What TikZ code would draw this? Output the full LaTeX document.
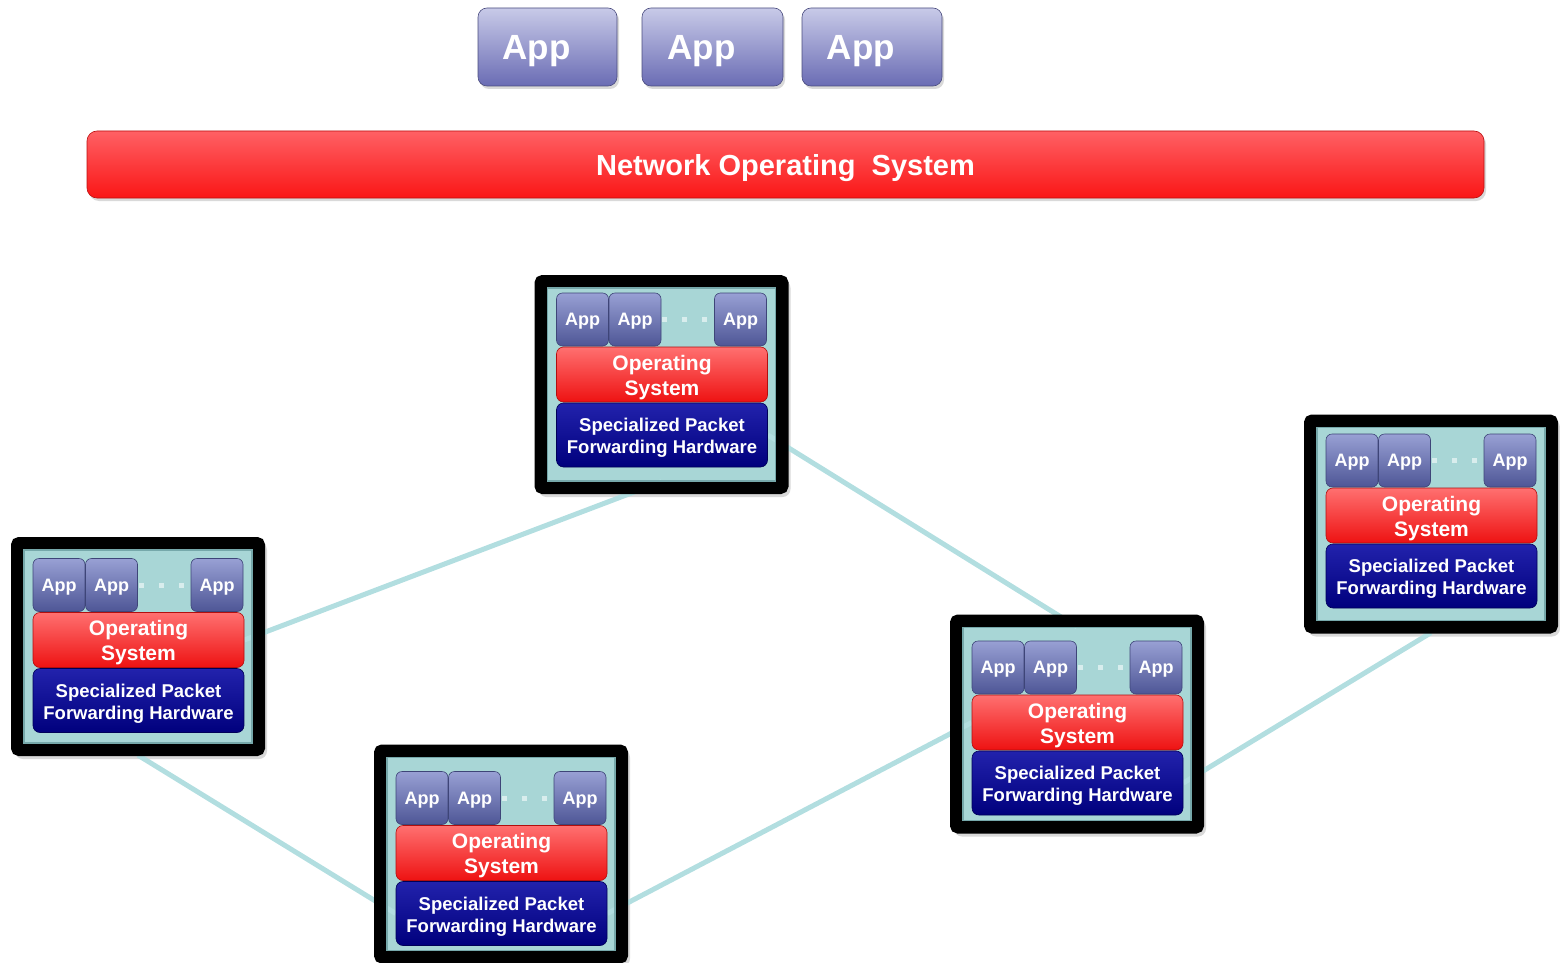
\documentclass[tikz,border=0pt]{standalone}
\usepackage{fontspec}
\setmainfont{Liberation Sans}
\usetikzlibrary{shadows}
\pgfdeclarelayer{bg}
\pgfdeclarelayer{mid}
\pgfsetlayers{bg,mid,main}

\definecolor{tealbg}{RGB}{168,214,214}
\definecolor{tealdk}{RGB}{118,168,170}
\definecolor{linkc}{RGB}{178,222,224}
\definecolor{apptop}{RGB}{200,202,232}
\definecolor{appbot}{RGB}{106,108,180}
\definecolor{smtop}{RGB}{152,160,212}
\definecolor{smbot}{RGB}{78,86,150}
\definecolor{ostop}{RGB}{255,112,112}
\definecolor{osbot}{RGB}{238,18,18}
\definecolor{hwtop}{RGB}{34,34,172}
\definecolor{hwbot}{RGB}{0,0,125}
\definecolor{nostop}{RGB}{255,96,100}
\definecolor{nosbot}{RGB}{250,22,22}

\tikzset{
	swbg/.style={fill=tealbg, rounded corners=8pt, minimum width=252pt, minimum height=217pt, inner sep=0pt,
		drop shadow={opacity=0.3, shadow xshift=3pt, shadow yshift=-4pt}},
	swring/.style={draw=black, line width=13pt, rounded corners=2pt, minimum width=241pt, minimum height=206pt, inner sep=0pt},
	swedge/.style={draw=tealdk, line width=1.2pt, minimum width=228pt, minimum height=193pt, inner sep=0pt},
	smapp/.style={draw=smbot!80!black, line width=0.6pt, top color=smtop, bottom color=smbot, rounded corners=6pt,
		minimum width=52pt, minimum height=53pt, inner sep=0pt, text height=12pt, text depth=0pt,
		text=white, font=\fontsize{18}{18}\selectfont\bfseries},
	oslay/.style={draw=osbot!75!black, line width=0.6pt, top color=ostop, bottom color=osbot, rounded corners=7pt,
		minimum width=211pt, minimum height=55pt, inner sep=0pt},
	hwlay/.style={draw=hwbot!70!black, line width=0.6pt, top color=hwtop, bottom color=hwbot, rounded corners=7pt,
		minimum width=211pt, minimum height=64pt, inner sep=0pt},
	ostxt/.style={align=center, inner sep=0pt, text=white, font=\fontsize{21}{25}\selectfont\bfseries},
	hwtxt/.style={align=center, inner sep=0pt, text=white, font=\fontsize{18.5}{22}\selectfont\bfseries},
	appdot/.style={rectangle, fill=white!55!tealbg, inner sep=0pt, minimum size=5pt},
	bigapp/.style={draw=appbot!70!black, line width=0.6pt, top color=apptop, bottom color=appbot, rounded corners=9pt,
		minimum height=78pt, inner sep=0pt, drop shadow={opacity=0.3, shadow xshift=2pt, shadow yshift=-3pt}},
	bigtxt/.style={text=white, inner sep=0pt, text height=25pt, text depth=0pt, font=\fontsize{35}{35}\selectfont\bfseries},
	nosbar/.style={draw=nosbot!75!black, line width=0.6pt, top color=nostop, bottom color=nosbot, rounded corners=10pt,
		minimum width=1397pt, minimum height=67pt, inner sep=0pt, text height=21pt, text depth=0pt,
		text=white, font=\fontsize{29}{29}\selectfont\bfseries,
		drop shadow={opacity=0.3, shadow xshift=2pt, shadow yshift=-3pt}},
	link/.style={linkc, line width=5pt}
}

\begin{document}
\begin{tikzpicture}[x=1pt, y=-1pt]
\useasboundingbox (0,0) rectangle (1560,963);

% apps on top of the network OS
\foreach \i/\x/\w in {1/547.5/139, 2/712.5/141, 3/872/140}{
	\node[bigapp, minimum width=\w] (app\i) at (\x,47) {};
	\node[bigtxt] (app\i-t) at ([xshift=-11pt]app\i.center) {App};
}
\node[nosbar] (nos) at (785.5,164.5) {Network Operating~ System};

% switches
\foreach \n/\cx/\cy/\dy in {T/661.5/384.5/-4.5, L/138/646.5/-1, B/501/854/4.5, M/1077/724/4, R/1431/524/-3}{
	\begin{pgfonlayer}{bg}
		\node[swbg] (sw\n) at (\cx,\cy) {};
	\end{pgfonlayer}
	\node[swring] (sw\n-fr) at (\cx,\cy) {};
	\node[swedge] (sw\n-in) at (\cx,\cy) {};
	\node[smapp] (sw\n-a1) at (\cx-79,\cy+\dy-60.5) {App};
	\node[smapp] (sw\n-a2) at (\cx-26.5,\cy+\dy-60.5) {App};
	\node[smapp] (sw\n-a3) at (\cx+79,\cy+\dy-60.5) {App};
	\foreach \k in {3,23,43}
		\node[appdot] (sw\n-d\k) at (\cx+\k,\cy+\dy-60.5) {};
	\node[oslay] (sw\n-os) at (\cx+0.5,\cy+\dy-5.5) {};
	\node[ostxt] (sw\n-ost) at ([yshift=-3pt]sw\n-os.center) {Operating\\System};
	\node[hwlay] (sw\n-hw) at (\cx+0.5,\cy+\dy+55) {};
	\node[hwtxt] (sw\n-hwt) at ([yshift=-3pt]sw\n-hw.center) {Specialized Packet\\Forwarding Hardware};
}

% links between switches
\begin{pgfonlayer}{mid}
\draw[link] (swL-os.east) -- (swT-in.south);
\draw[link] (swT-hw.east) -- (swM-in.north);
\draw[link] (swL.south) -- (swB-hw.west);
\draw[link] (swB-hw.east) -- (swM-os.west);
\draw[link] (swM-hw.east) -- (swR.south);
\end{pgfonlayer}
\end{tikzpicture}
\end{document}
